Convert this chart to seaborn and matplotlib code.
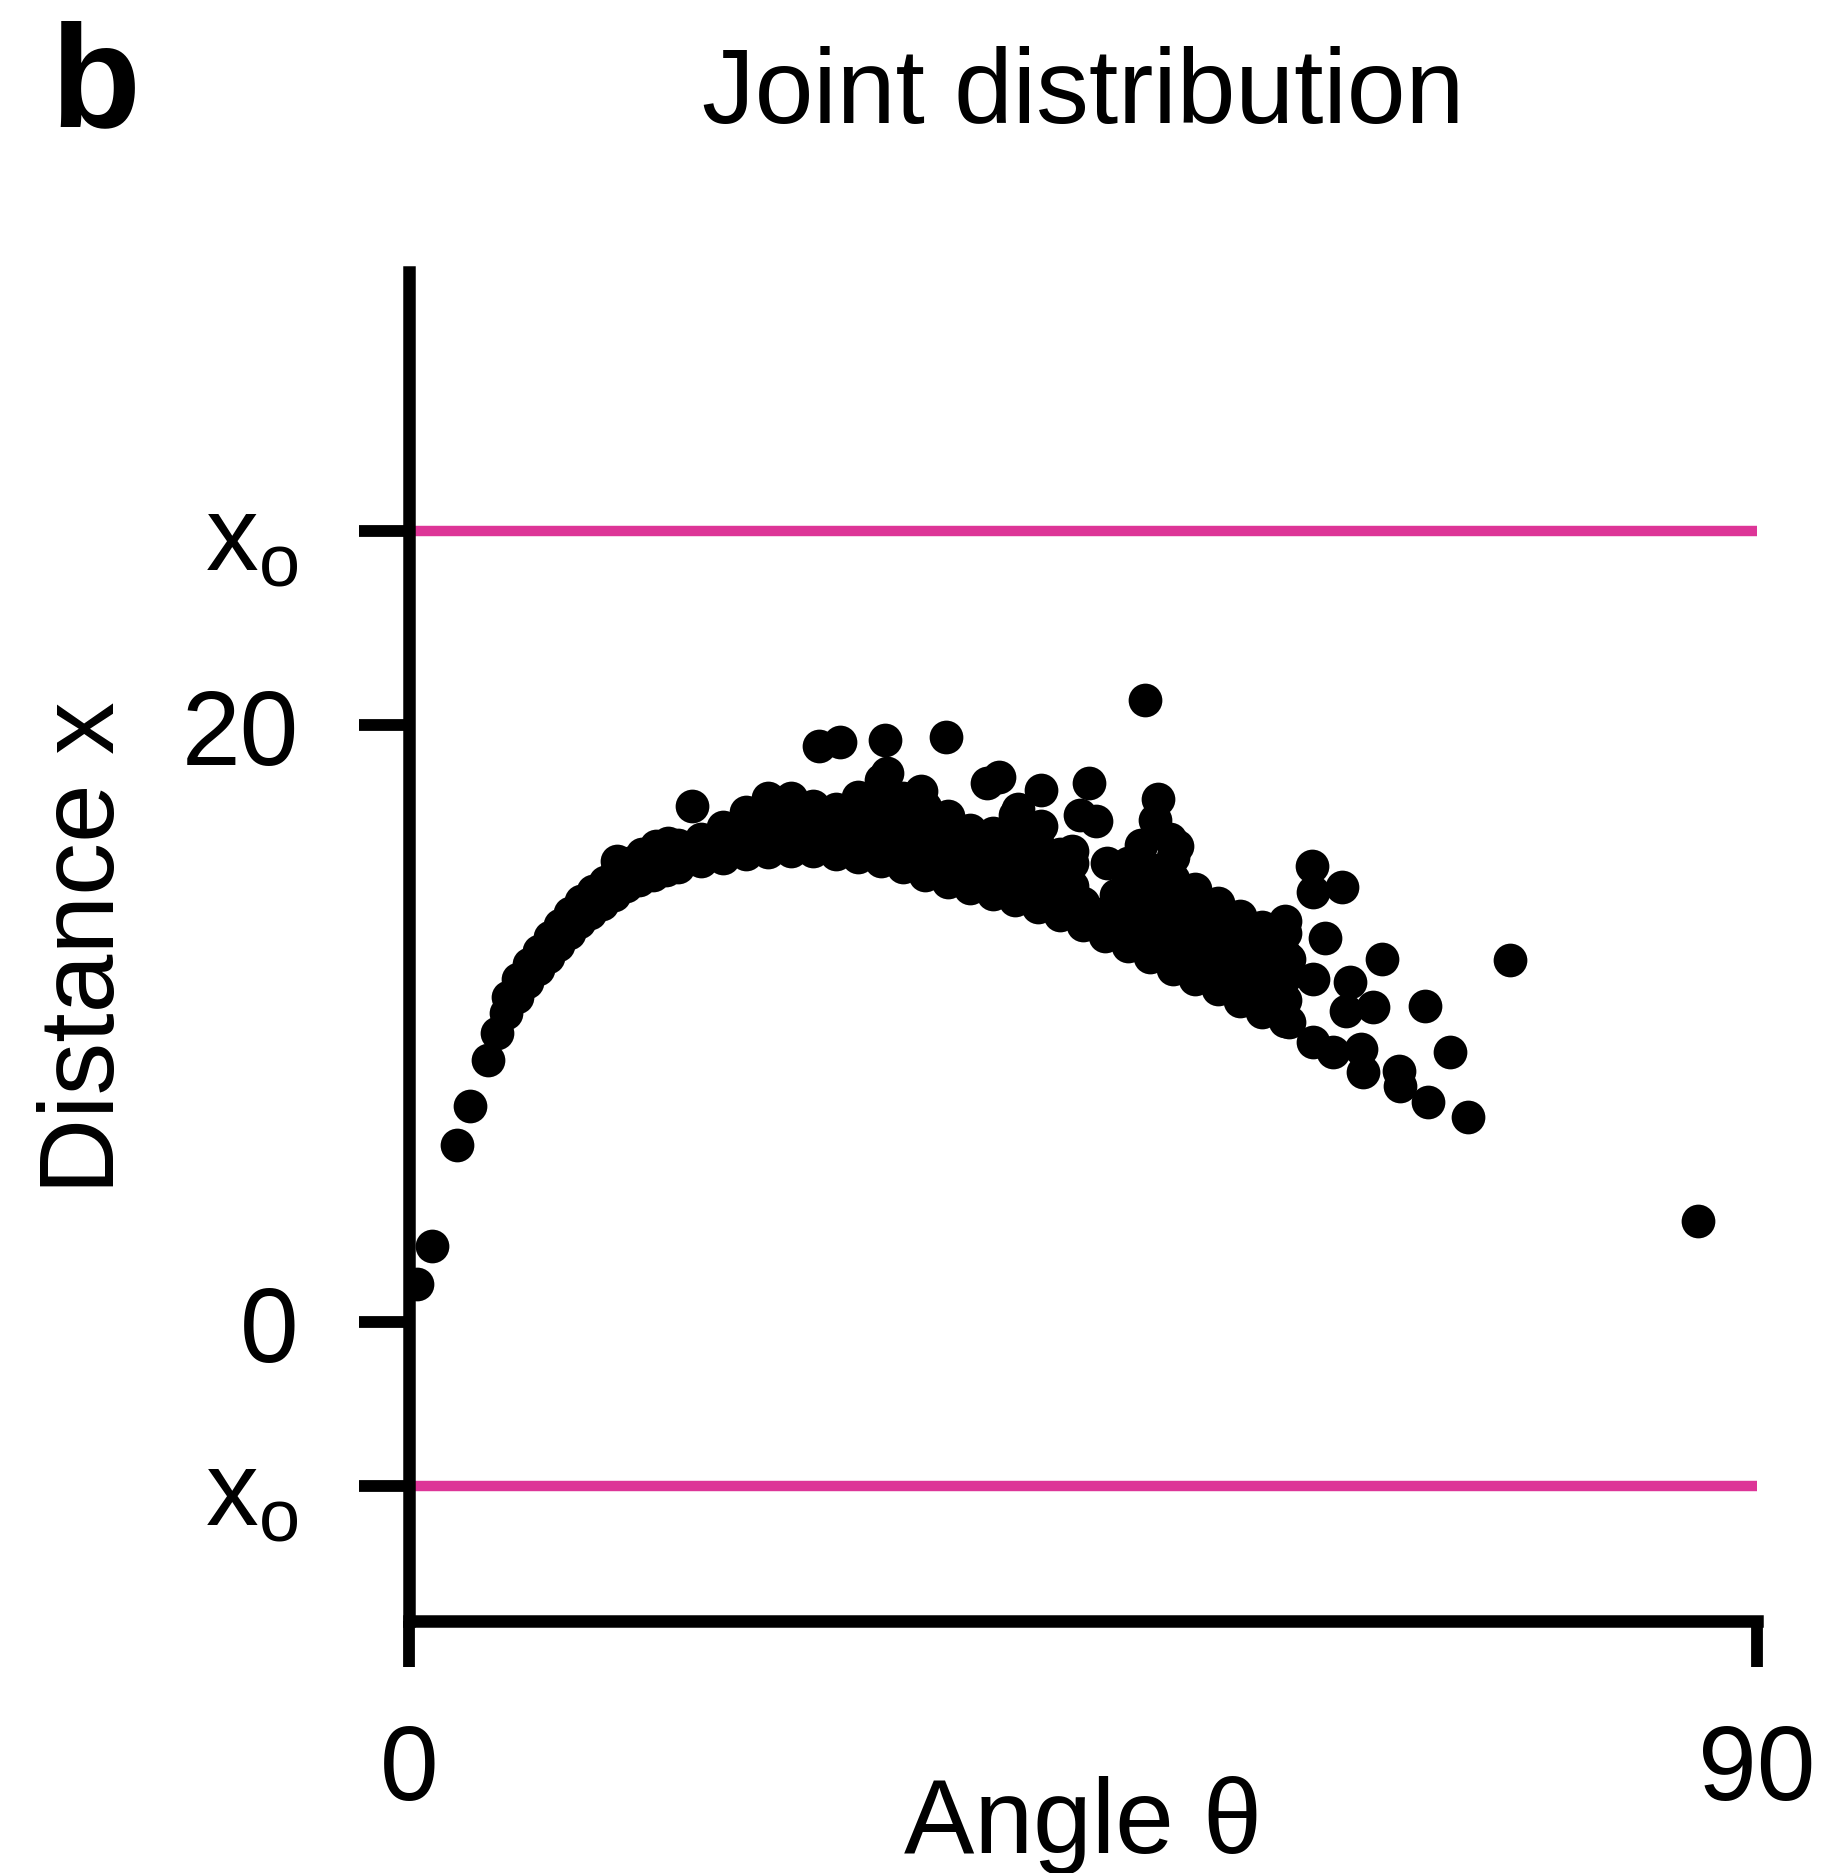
import matplotlib
matplotlib.use("Agg")
import matplotlib.pyplot as plt
import seaborn as sns
import pandas as pd

# ---- data (angle theta in degrees, distance x) ----
tail_theta = [0.53, 1.54, 3.2]
tail_dist = [1.27, 2.56, 5.93]

thin_lo_theta = [4.1, 5.3, 5.9, 6.5, 7.2, 7.9, 8.6, 9.3, 10.0, 10.7, 11.4, 12.1,
                 12.9, 13.7, 14.5, 15.4, 16.3, 17.2]
thin_lo_dist = [7.25, 8.8, 9.7, 10.35, 10.9, 11.4, 11.85, 12.25, 12.65, 13.05,
                13.4, 13.7, 14.0, 14.3, 14.6, 14.8, 15.0, 15.15]
thin_hi_theta = [6.6, 7.3, 8.0, 8.7, 9.4, 10.1, 10.8, 11.5, 12.3, 13.1, 13.9,
                 14.7, 15.6, 16.5, 17.3]
thin_hi_dist = [10.9, 11.5, 12.0, 12.45, 12.9, 13.3, 13.7, 14.1, 14.45, 14.75,
                15.15, 15.4, 15.7, 15.95, 16.05]

core_theta = [18.0, 18.0,
              19.5, 19.5,
              21.0, 21.0, 21.0,
              22.5, 22.5, 22.5,
              24.0, 24.0, 24.0, 24.0,
              25.5, 25.5, 25.5, 25.5,
              27.0, 27.0, 27.0,
              28.5, 28.5, 28.5,
              30.0, 30.0, 30.0, 30.0,
              31.5, 31.5, 31.5, 31.5, 31.5,
              33.0, 33.0, 33.0, 33.0,
              34.5, 34.5, 34.5, 34.5, 34.2,
              36.0, 36.0, 36.0, 36.0,
              37.5, 37.5, 37.5, 37.5,
              39.0, 39.0, 39.0, 39.0,
              40.5, 40.5, 40.5, 40.5, 40.5,
              42.0, 42.0, 42.0, 42.0,
              43.5, 43.5, 43.5, 43.5,
              45.0, 45.0, 44.3, 44.3, 44.3,
              46.5, 46.5, 46.6, 47.2,
              48.0, 48.0, 48.0, 48.0, 48.0,
              49.5, 49.5, 49.5, 49.5, 49.5,
              51.0, 51.0, 51.0, 51.0, 51.0, 51.0,
              52.5, 52.5, 52.5, 52.5, 52.5,
              54.0, 54.0, 54.0, 54.0, 54.0,
              55.5, 55.5, 55.5, 55.5, 55.5,
              57.0, 57.0, 57.0, 57.0, 57.0,
              58.5, 58.5, 58.5, 58.5, 58.5, 58.5]
core_dist = [15.25, 16.0,
             15.45, 16.2,
             15.55, 16.1, 16.6,
             15.7, 16.4, 17.1,
             15.75, 16.45, 17.1, 17.55,
             15.8, 16.5, 17.2, 17.55,
             15.8, 16.5, 17.3,
             15.7, 16.45, 17.2,
             15.6, 16.3, 17.0, 17.6,
             15.45, 16.1, 16.8, 17.5, 18.15,
             15.25, 15.95, 16.7, 17.55,
             15.0, 15.7, 16.45, 17.25, 17.8,
             14.75, 15.45, 16.2, 16.95,
             14.55, 15.3, 16.05, 16.5,
             14.35, 15.1, 15.85, 16.4,
             14.15, 14.9, 15.6, 16.3, 17.0,
             13.9, 14.6, 15.3, 16.0,
             13.65, 14.35, 15.0, 15.7,
             13.3, 14.05, 14.6, 15.4, 15.8,
             12.95, 13.7, 15.4, 14.3,
             12.6, 13.35, 14.05, 14.75, 15.4,
             12.25, 13.0, 13.7, 14.45, 15.2,
             11.85, 12.6, 13.35, 14.1, 14.85, 15.6,
             11.5, 12.25, 13.0, 13.75, 14.5,
             11.15, 11.9, 12.6, 13.35, 14.05,
             10.75, 11.45, 12.1, 12.85, 13.6,
             10.4, 11.1, 11.8, 12.5, 13.25,
             10.1, 10.8, 11.55, 12.3, 13.05, 13.45]

sparse_theta = [27.4, 28.8, 31.8, 35.85, 49.15, 18.9, 13.9, 31.9, 38.6, 39.4,
                42.2, 45.4, 45.9, 40.7, 50.0, 49.85, 48.9, 51.3, 60.3, 60.4,
                62.3, 61.2, 58.8, 65.0, 67.85, 69.5, 73.5, 62.85, 64.4, 62.6,
                60.4, 58.8, 60.4, 61.7, 63.6, 63.7, 66.1, 66.2, 68.07, 70.74,
                86.1, 42.2, 44.8, 50.8, 41.3]
sparse_dist = [19.3, 19.45, 19.5, 19.6, 20.85, 17.3, 15.45, 18.4, 18.05, 18.25,
               17.82, 18.05, 16.8, 17.2, 17.54, 16.81, 16.0, 15.95, 15.3, 14.4,
               14.58, 12.86, 12.17, 12.17, 10.61, 9.04, 12.12, 11.39, 10.55, 10.44,
               11.5, 10.05, 9.38, 9.04, 9.15, 8.37, 8.43, 7.93, 7.37, 6.86,
               3.40, 16.64, 17.0, 16.2, 16.42]

x_o_upper = 26.5
x_o_lower = -5.5
y_tick_values = [x_o_lower, 0, 20, x_o_upper]
y_tick_labels = [r"x$_\mathregular{o}$", "0", "20", r"x$_\mathregular{o}$"]
x_tick_values = [0, 90]
x_tick_labels = ["0", "90"]

# ---- build table ----
theta_all = tail_theta + thin_lo_theta + thin_hi_theta + core_theta + sparse_theta
dist_all = tail_dist + thin_lo_dist + thin_hi_dist + core_dist + sparse_dist
df = pd.DataFrame({"theta": theta_all, "dist": dist_all})

sns.set_style("ticks")
plt.rcParams["font.family"] = ["Liberation Sans", "DejaVu Sans"]
plt.rcParams["mathtext.fontset"] = "custom"
plt.rcParams["mathtext.rm"] = "Liberation Sans"
plt.rcParams["mathtext.it"] = "Liberation Sans"
plt.rcParams["text.color"] = "black"
plt.rcParams["axes.labelcolor"] = "black"
plt.rcParams["xtick.color"] = "black"
plt.rcParams["ytick.color"] = "black"

W, H = 1844, 1874
fig = plt.figure(figsize=(W / 100, H / 100), dpi=100)
ax_l, ax_r = 408.7, 1756.8
ax_t, ax_b = 272.5, 1621.8
ax = fig.add_axes([ax_l / W, 1 - ax_b / H, (ax_r - ax_l) / W, (ax_b - ax_t) / H])

pink = "#DD3597"
ax.axhline(x_o_upper, color=pink, lw=7.5, zorder=1)
ax.axhline(x_o_lower, color=pink, lw=7.5, zorder=1)

sns.scatterplot(data=df, x="theta", y="dist", ax=ax, s=590, color="black",
                linewidth=0, zorder=3, legend=False)

ax.set_xlim(0, 90)
ax.set_ylim(-10, 35.2)

for side in ["top", "right"]:
    ax.spines[side].set_visible(False)
for side in ["left", "bottom"]:
    ax.spines[side].set_linewidth(9)
    ax.spines[side].set_color("black")
    ax.spines[side].set_capstyle("projecting")

ax.set_xticks(x_tick_values)
ax.set_xticklabels(x_tick_labels)
ax.set_yticks(y_tick_values)
ax.set_yticklabels(y_tick_labels)
ax.tick_params(axis="y", length=36, width=8.5, pad=43, labelsize=76, colors="black")
ax.tick_params(axis="x", length=33, width=8.5, pad=40, labelsize=76, colors="black")

ax.set_xlabel("Angle θ", fontsize=76, color="black")
ax.set_ylabel("Distance x", fontsize=76, color="black")
ax.xaxis.label.set_va("baseline")
ax.xaxis.set_label_coords(0.5, -(1853 - ax_b) / (ax_b - ax_t))
ax.yaxis.label.set_va("center")
ax.yaxis.set_label_coords((86 - ax_l) / (ax_r - ax_l), 0.5)

fig.text((ax_l + ax_r) / 2 / W, 1 - 123 / H, "Joint distribution", fontsize=76,
         ha="center", va="baseline", color="black")
fig.text(50 / W, 1 - 126 / H, "b", fontsize=106, fontweight="bold",
         ha="left", va="baseline", color="black")

fig.savefig("out.png", dpi=100)
